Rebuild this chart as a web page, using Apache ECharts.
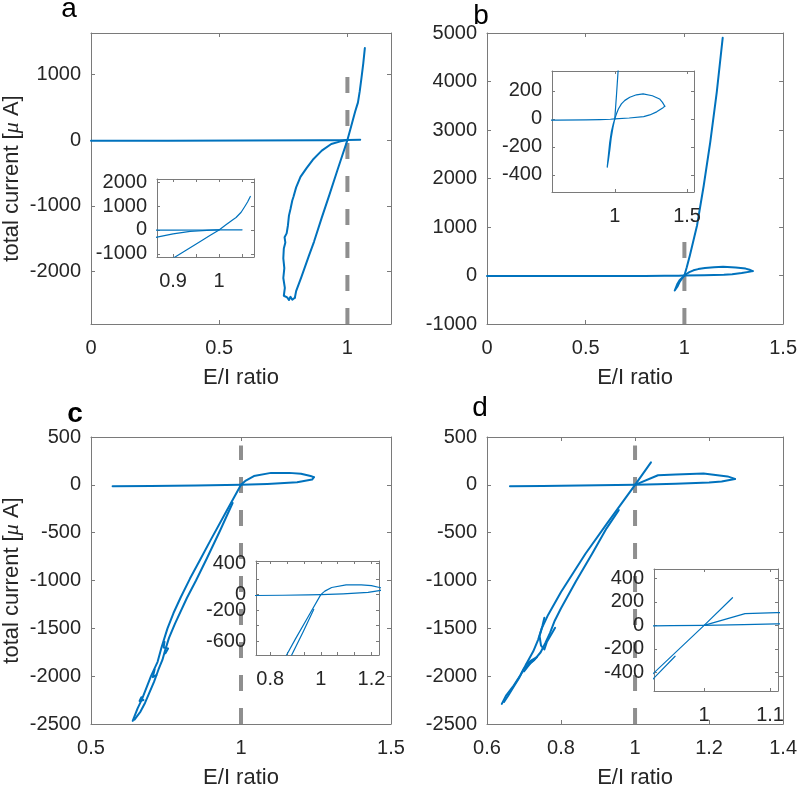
<!DOCTYPE html>
<html>
<head>
<meta charset="utf-8">
<script src="https://cdn.jsdelivr.net/npm/echarts@6/dist/echarts.min.js"></script>
<style>html,body{margin:0;padding:0;background:#fff;}#c{width:800px;height:790px;}</style>
</head>
<body>
<div id="c"></div>
<script>
// ---------- Panel a ----------
const aFlat = [[0,-10],[0.3,-9],[0.6,-7],[0.9,-4],[0.97,-1],[1.0,2],[1.05,5]];
const aLeft = [[0.795,-2400],[0.785,-2430],[0.778,-2385],[0.772,-2435],[0.765,-2395],[0.758,-2420],[0.752,-2370],[0.756,-2250],[0.75,-2100],[0.754,-1950],[0.75,-1800],[0.752,-1650],[0.758,-1560],[0.755,-1480],[0.763,-1420],[0.768,-1300],[0.772,-1150],[0.778,-1050],[0.785,-920],[0.79,-860],[0.80,-720],[0.817,-560],[0.84,-430],[0.865,-300],[0.9,-160],[0.937,-60],[0.973,-20],[1.0,0]];
const aSteep = [[0.795,-2400],[0.80,-2300],[0.82,-2090],[0.85,-1760],[0.87,-1545],[0.90,-1180],[0.93,-830],[0.96,-470],[0.98,-235],[1.0,0],[1.015,215],[1.03,430],[1.037,520],[1.035,490],[1.041,570],[1.048,740],[1.055,950],[1.062,1170],[1.068,1400]];
const aDash = [[1,-2800],[1,960]];
// ---------- Panel b ----------
const bFlat = [[0,-10],[0.3,-10],[0.6,-9],[0.8,-8],[0.9,-6],[0.97,-3],[1.0,0]];
const bSteep = [[1.0,0],[1.012,170],[1.028,420],[1.064,1031],[1.098,1856],[1.131,2750],[1.164,3781],[1.194,4900]];
const bLoopLow = [[1.0,0],[1.1,6],[1.2,16],[1.242,28],[1.29,50],[1.334,80],[1.346,90]];
const bLoopHigh = [[1.346,90],[1.33,118],[1.31,142],[1.26,165],[1.196,178],[1.15,172],[1.104,154],[1.07,132],[1.046,107],[1.025,70],[1.012,36],[1.0,0]];
const bLower = [[1.0,0],[0.99,-35],[0.977,-90],[0.965,-170],[0.957,-250],[0.951,-310],[0.948,-345],[0.951,-325],[0.956,-295],[0.96,-290],[0.966,-220],[0.975,-140],[0.988,-60],[1.0,0]];
const bDash = [[1,-1000],[1,695]];
// ---------- Panel c ----------
const cFlat = [[0.572,-15],[0.7,-12],[0.85,-8],[0.95,-3],[1.0,0]];
const cLoopLow = [[1.0,0],[1.088,10],[1.187,28],[1.237,55],[1.243,80]];
const cLoopHigh = [[1.243,80],[1.232,92],[1.2,115],[1.16,125],[1.1,125],[1.043,92],[1.016,45],[1.0,0]];
const cA = [[1.0,0],[0.95,-285],[0.9,-570],[0.866,-770],[0.83,-980],[0.8,-1170],[0.775,-1340],[0.755,-1500],[0.745,-1600],[0.735,-1700],[0.722,-1850],[0.70,-2000],[0.685,-2120],[0.67,-2240],[0.655,-2340],[0.639,-2467]];
const cB = [[0.972,-190],[0.93,-480],[0.886,-770],[0.85,-1000],[0.82,-1180],[0.78,-1450],[0.76,-1600],[0.748,-1720],[0.738,-1830],[0.725,-1930],[0.71,-2060],[0.695,-2170],[0.68,-2280],[0.665,-2370],[0.645,-2455]];
const cJ1 = [[0.745,-1640],[0.742,-1700],[0.757,-1710],[0.748,-1760]];
const cJ2 = [[0.712,-1930],[0.706,-2010],[0.718,-1990]];
const cJ3 = [[0.668,-2220],[0.662,-2260],[0.675,-2250]];
const cDash = [[1,-2500],[1,411]];
// ---------- Panel d ----------
const dFlat = [[0.662,-15],[0.75,-12],[0.85,-8],[0.95,-3],[1.0,0]];
const dLoopLow = [[1.0,0],[1.06,6],[1.11,12],[1.2,25],[1.234,34],[1.27,62]];
const dLoopHigh = [[1.27,62],[1.25,88],[1.185,118],[1.11,108],[1.062,100],[1.0,0]];
const dA = [[1.043,235],[1.0,0],[0.923,-410],[0.866,-720],[0.80,-1120],[0.765,-1360],[0.748,-1500],[0.738,-1620],[0.725,-1740],[0.708,-1860],[0.69,-1990],[0.67,-2110],[0.652,-2200],[0.64,-2290]];
const dB = [[0.956,-264],[0.923,-455],[0.884,-720],[0.84,-1010],[0.80,-1290],[0.783,-1420],[0.77,-1550],[0.758,-1650],[0.745,-1750],[0.728,-1830],[0.712,-1880],[0.70,-1920],[0.688,-2010],[0.672,-2110],[0.658,-2200],[0.646,-2270]];
const dT1 = [[0.755,-1390],[0.75,-1470],[0.742,-1580],[0.746,-1680],[0.755,-1720],[0.762,-1640],[0.784,-1494]];
const dT2 = [[0.705,-1880],[0.72,-1835],[0.735,-1800],[0.718,-1860],[0.70,-1950]];
const dDash = [[1,-2500],[1,411]];

// ---------- Axis ranges and ticks ----------
const aXRange = [0, 1.17], aYRange = [-2800, 1630];
const aXTicks = [0, 0.5, 1], aYTicks = [-2000, -1000, 0, 1000];
const aiXRange = [0.865, 1.076], aiYRange = [-1130, 2130];
const aiXTicks = [0.9, 0.95, 1, 1.05], aiXLabels = [0.9, 1], aiYTicks = [-1000, 0, 1000, 2000];

const bXRange = [0, 1.5], bYRange = [-1000, 5000];
const bXTicks = [0, 0.5, 1, 1.5], bYTicks = [-1000, 0, 1000, 2000, 3000, 4000, 5000];
const biXRange = [0.566, 1.548], biYRange = [-523, 342];
const biXTicks = [1, 1.5], biYTicks = [-400, -200, 0, 200];

const cXRange = [0.5, 1.5], cYRange = [-2500, 500];
const cXTicks = [0.5, 1, 1.5], cYTicks = [-2500, -2000, -1500, -1000, -500, 0, 500];
const ciXRange = [0.744, 1.23], ciYRange = [-777, 433];
const ciXTicks = [0.8, 0.8667, 0.9333, 1, 1.0667, 1.1333, 1.2], ciXLabels = [0.8, 1, 1.2];
const ciYTicks = [-600, -400, -200, 0, 200, 400], ciYLabels = [-600, -200, 0, 400];

const dXRange = [0.6, 1.4], dYRange = [-2500, 500];
const dXTicks = [0.6, 0.8, 1, 1.2, 1.4], dYTicks = [-2500, -2000, -1500, -1000, -500, 0, 500];
const diXRange = [0.924, 1.112], diYRange = [-560, 480];
const diXTicks = [1, 1.1], diYTicks = [-400, -200, 0, 200, 400];

const FONT = '"Liberation Sans", Arial, Helvetica, sans-serif';
const TXT = '#262626';
const BOX = '#7a7a7a';
const BLUE = '#0072BD';
const DASHC = '#8f8f8f';

const grids = [
  {left: 90, top: 33, width: 301, height: 291},
  {left: 487, top: 33, width: 300, height: 291},
  {left: 90, top: 437, width: 301, height: 291},
  {left: 487, top: 437, width: 300, height: 291},
  {left: 157, top: 179, width: 97, height: 78},
  {left: 552, top: 71, width: 142, height: 121},
  {left: 256, top: 561, width: 123, height: 94},
  {left: 654, top: 569, width: 124, height: 122}
];

const fmt = v => String(Math.round(v * 10000) / 10000);

const xAxes = [], yAxes = [];
function addAxes(g, xr, yr, xt, xl, yt, yl, opt) {
  const z = opt.inset ? 6 : 1;
  const tl = opt.inset ? 3 : 4;
  const line = {show: true, onZero: false, lineStyle: {color: BOX, width: 1}};
  const tick = t => ({show: true, inside: true, length: tl, customValues: t, lineStyle: {color: BOX, width: 1}});
  const lab = (l, m) => ({show: true, customValues: l, margin: m, fontSize: 20, color: TXT, fontFamily: FONT, formatter: fmt});
  const nameStyle = {fontSize: 22, color: TXT, fontFamily: FONT};
  xAxes.push({type: 'value', gridIndex: g, min: xr[0], max: xr[1], position: 'bottom', z: z,
    axisLine: line, axisTick: tick(xt), axisLabel: lab(xl, 14), splitLine: {show: false},
    name: opt.xName || '', nameLocation: 'middle', nameGap: 43, nameTextStyle: nameStyle});
  xAxes.push({type: 'value', gridIndex: g, min: xr[0], max: xr[1], position: 'top', z: z,
    axisLine: line, axisTick: tick(xt), axisLabel: {show: false}, splitLine: {show: false}});
  yAxes.push({type: 'value', gridIndex: g, min: yr[0], max: yr[1], position: 'left', z: z,
    axisLine: line, axisTick: tick(yt), axisLabel: lab(yl, 10), splitLine: {show: false},
    name: opt.yName || '', nameLocation: 'middle', nameGap: 68,
    nameTextStyle: Object.assign({}, nameStyle, {rich: {mu: {fontSize: 22, color: TXT, fontFamily: '"Liberation Serif", "DejaVu Serif", serif', fontStyle: 'italic'}}})});
  yAxes.push({type: 'value', gridIndex: g, min: yr[0], max: yr[1], position: 'right', z: z,
    axisLine: line, axisTick: tick(yt), axisLabel: {show: false}, splitLine: {show: false}});
}
const YN = 'total current [{mu|μ} A]';
const XN = 'E/I ratio';
addAxes(0, aXRange, aYRange, aXTicks, aXTicks, aYTicks, aYTicks, {xName: XN, yName: YN});
addAxes(1, bXRange, bYRange, bXTicks, bXTicks, bYTicks, bYTicks, {xName: XN});
addAxes(2, cXRange, cYRange, cXTicks, cXTicks, cYTicks, cYTicks, {xName: XN, yName: YN});
addAxes(3, dXRange, dYRange, dXTicks, dXTicks, dYTicks, dYTicks, {xName: XN});
addAxes(4, aiXRange, aiYRange, aiXTicks, aiXLabels, aiYTicks, aiYTicks, {inset: true});
addAxes(5, biXRange, biYRange, biXTicks, biXTicks, biYTicks, biYTicks, {inset: true});
addAxes(6, ciXRange, ciYRange, ciXTicks, ciXLabels, ciYTicks, ciYLabels, {inset: true});
addAxes(7, diXRange, diYRange, diXTicks, diXTicks, diYTicks, diYTicks, {inset: true});

const series = [];
function addLine(g, data, w) {
  series.push({type: 'line', xAxisIndex: 2 * g, yAxisIndex: 2 * g, data: data, showSymbol: false, symbol: 'none',
    clip: true, silent: true, z: g >= 4 ? 7 : 2,
    lineStyle: {color: BLUE, width: w, cap: 'round', join: 'round'}});
}
function addDash(g, data) {
  series.push({type: 'line', xAxisIndex: 2 * g, yAxisIndex: 2 * g, data: data, showSymbol: false, symbol: 'none',
    clip: true, silent: true, z: 1,
    lineStyle: {color: DASHC, width: 4, type: [16, 17], cap: 'butt'}});
}
const panels = [
  [aFlat, aLeft, aSteep],
  [bFlat, bSteep, bLoopLow, bLoopHigh, bLower],
  [cFlat, cLoopLow, cLoopHigh, cA, cB, cJ1, cJ2, cJ3],
  [dFlat, dLoopLow, dLoopHigh, dA, dB, dT1, dT2]
];
const dashes = [aDash, bDash, cDash, dDash];
panels.forEach((paths, i) => {
  addDash(i, dashes[i]);
  paths.forEach(p => addLine(i, p, 2));
  paths.forEach(p => addLine(i + 4, p, 1.2));
});

const letters = [
  {t: 'a', x: 69, y: 9, w: 'normal'},
  {t: 'b', x: 481, y: 16, w: 'normal'},
  {t: 'c', x: 75, y: 414, w: 'bold'},
  {t: 'd', x: 480, y: 408, w: 'normal'}
];

const chart = echarts.init(document.getElementById('c'), null, {renderer: 'canvas'});
chart.setOption({
  animation: false,
  backgroundColor: '#fff',
  grid: grids.map((g, i) => Object.assign({show: i >= 4, backgroundColor: '#fff', borderWidth: 0, z: i >= 4 ? 5 : 0}, g)),
  xAxis: xAxes,
  yAxis: yAxes,
  series: series,
  graphic: letters.map(l => ({type: 'text', x: l.x, y: l.y, z: 10,
    style: {text: l.t, fontSize: 28, fontWeight: l.w, fill: '#000', fontFamily: FONT, align: 'center', verticalAlign: 'middle'}}))
});
</script>
</body>
</html>
